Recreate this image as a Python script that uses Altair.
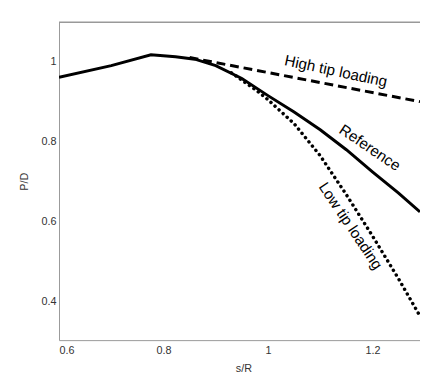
import altair as alt
import pandas as pd

# Reference (solid)
ref_x = [0.60, 0.70, 0.776, 0.823, 0.86, 0.90, 0.95, 1.00, 1.05, 1.10, 1.15, 1.20, 1.25, 1.291]
ref_y = [0.961, 0.990, 1.017, 1.012, 1.006, 0.990, 0.958, 0.915, 0.874, 0.830, 0.780, 0.725, 0.672, 0.625]

# High tip loading (dashed)
high_x = [0.85, 1.291]
high_y = [1.010, 0.900]

# Low tip loading (dotted)
low_x = [0.93, 0.979, 1.00, 1.05, 1.10, 1.15, 1.20, 1.25, 1.291]
low_y = [0.972, 0.927, 0.905, 0.845, 0.765, 0.668, 0.565, 0.458, 0.365]

labels = ["High tip loading", "Reference", "Low tip loading"]
label_x = [1.13, 1.195, 1.158]
label_y = [0.976, 0.785, 0.590]
label_angle = [12, 34, 56]

x_ticks = [0.6, 0.8, 1.0, 1.2]
y_ticks = [0.4, 0.6, 0.8, 1.0]

ref_df = pd.DataFrame({"x": ref_x, "y": ref_y})
high_df = pd.DataFrame({"x": high_x, "y": high_y})
low_df = pd.DataFrame({"x": low_x, "y": low_y})
lab_df = pd.DataFrame({"x": label_x, "y": label_y, "t": labels, "a": label_angle})

xs = alt.Scale(domain=[0.6, 1.291], nice=False, zero=False)
ys = alt.Scale(domain=[0.305, 1.098], nice=False, zero=False)

xenc = alt.X("x:Q", scale=xs, title="s/R",
             axis=alt.Axis(values=x_ticks, format="~g", grid=False, ticks=False,
                           labelPadding=5, titlePadding=7, titleX=188,
                           labelFontSize=11, titleFontSize=11, titleFontWeight="normal",
                           labelColor="#333", titleColor="#333", domainColor="#999",
                           labelFont="Liberation Sans", titleFont="Liberation Sans"))
yenc = alt.Y("y:Q", scale=ys, title="P/D",
             axis=alt.Axis(values=y_ticks, format="~g", grid=False, ticks=False,
                           labelPadding=3, titlePadding=12,
                           labelFontSize=11, titleFontSize=11, titleFontWeight="normal",
                           labelColor="#333", titleColor="#333", domainColor="#999",
                           labelFont="Liberation Sans", titleFont="Liberation Sans"))

ref = alt.Chart(ref_df).mark_line(color="black", strokeWidth=3, clip=True).encode(x=xenc, y=yenc)
high = alt.Chart(high_df).mark_line(color="black", strokeWidth=3, strokeDash=[9, 5], clip=True).encode(x="x:Q", y="y:Q")
low = alt.Chart(low_df).mark_line(color="black", strokeWidth=3.5, strokeDash=[0.1, 5.5],
                                  strokeCap="round", clip=True).encode(x="x:Q", y="y:Q")
txt = alt.Chart(lab_df).mark_text(font="Liberation Sans", fontSize=15.5, color="black",
                                  align="center", baseline="middle").encode(
    x="x:Q", y="y:Q", text="t:N", angle=alt.Angle("a:Q", scale=None))
top = alt.Chart(pd.DataFrame({"v": [0]})).mark_rule(color="#999", strokeWidth=1.5).encode(y=alt.value(0))

chart = alt.layer(ref, high, low, txt, top).properties(
    width=368, height=324,
    autosize=alt.AutoSizeParams(type="none"),
    padding={"left": 52, "top": 11, "right": 0, "bottom": 33},
).configure_view(stroke=None)

chart.save("out.html", embed_options={"renderer": "svg", "actions": False})
